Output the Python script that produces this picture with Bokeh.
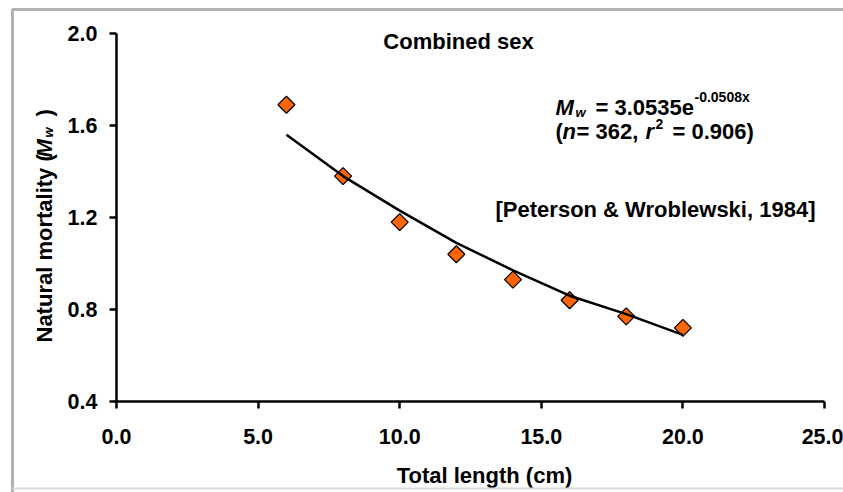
import math
from bokeh.plotting import figure
from bokeh.models import (Range1d, FixedTicker, NumeralTickFormatter, Label,
                          BoxAnnotation, LinearAxis)
from bokeh.embed import file_html
from bokeh.resources import INLINE

# ---- data ----
length_cm = [6, 8, 10, 12, 14, 16, 18, 20]
mortality = [1.69, 1.38, 1.18, 1.04, 0.93, 0.84, 0.77, 0.72]
fit_length = [6, 8, 10, 12, 14, 16, 18, 20]
fit_mortality = [1.56, 1.38, 1.23, 1.09, 0.97, 0.86, 0.78, 0.69]
x_ticks = [0, 5, 10, 15, 20, 25]
y_ticks = [0.4, 0.8, 1.2, 1.6, 2.0]

W, H = 843, 492
L, R, T, B = 116, 824, 33, 401          # pixel box of the axes
X0, X1, Y0, Y1 = 0, 25, 0.4, 2.0        # axis limits

FONT = "Liberation Sans"


def dx(px):
    return X0 + (px - L) / (R - L) * (X1 - X0)


def dy(py):
    return Y1 - (py - T) / (B - T) * (Y1 - Y0)


p = figure(width=W, height=H, output_backend="svg", toolbar_location=None,
           x_range=Range1d(dx(0), dx(W)), y_range=Range1d(dy(H), dy(0)),
           x_axis_location=None, y_axis_location=None,
           min_border_left=0, min_border_right=0,
           min_border_top=0, min_border_bottom=0)
p.outline_line_color = None
p.grid.visible = False
p.background_fill_color = "white"
p.border_fill_color = "white"

xaxis = LinearAxis(fixed_location=Y0, bounds=(X0, X1),
                   ticker=FixedTicker(ticks=x_ticks))
yaxis = LinearAxis(fixed_location=X0, bounds=(Y0, Y1),
                   ticker=FixedTicker(ticks=y_ticks))
for ax in (xaxis, yaxis):
    ax.axis_line_width = 2.5
    ax.axis_line_color = "black"
    ax.major_tick_line_width = 2.5
    ax.major_tick_line_color = "black"
    ax.major_tick_out = 7
    ax.major_tick_in = 0
    ax.minor_tick_line_color = None
    ax.major_label_text_font = FONT
    ax.major_label_text_font_style = "bold"
    ax.major_label_text_font_size = "21.5px"
    ax.major_label_text_color = "black"
    ax.formatter = NumeralTickFormatter(format="0.0")
xaxis.major_label_standoff = 20
yaxis.major_label_standoff = 12
p.add_layout(xaxis, "below")
p.add_layout(yaxis, "left")

p.scatter(length_cm, mortality, marker="square", angle=math.pi / 4, size=12,
          fill_color="#FF6600", line_color="black", line_width=1.3)
p.line(fit_length, fit_mortality, line_color="black", line_width=2.5)


def lab(text, px, py, size="22px", style="bold", align="left", angle=0.0):
    p.add_layout(Label(x=dx(px), y=dy(py), text=text, text_font=FONT,
                       text_font_style=style, text_font_size=size,
                       text_color="black", text_align=align,
                       text_baseline="alphabetic", angle=angle))


# title
lab("Combined sex", 458, 41, align="center")
# equation line 1
lab("M", 555, 107, style="bold italic")
lab("w", 575, 112, size="13px", style="bold italic")
lab("= 3.0535e", 595, 107)
lab("-0.0508x", 694, 96, size="14px")
# equation line 2
lab("(", 555, 131)
lab("n", 562, 131, style="bold italic")
lab("= 362,", 576, 131)
lab("r", 645, 131, style="bold italic")
lab("2", 655, 123, size="14px")
lab("= 0.906)", 672, 131)
# reference
lab("[Peterson & Wroblewski, 1984]", 655, 209, align="center")
# x axis title
lab("Total length (cm)", 484, 475, align="center")
# y axis title (rotated)
a = math.pi / 2
lab("Natural mortality (", 44, 342, angle=a)
lab("M", 44, 157, style="bold italic", angle=a)
lab("w", 48, 137, size="13px", style="bold italic", angle=a)
lab(")", 44, 116, angle=a)

# outer frame of the picture
p.add_layout(BoxAnnotation(left=dx(12), right=dx(W + 20), top=dy(9),
                           bottom=dy(H + 20), fill_color=None,
                           line_color="black", line_width=3))
p.add_layout(BoxAnnotation(left=dx(12), right=dx(W + 20), top=dy(487),
                           bottom=dy(489), fill_color="#d8d8d8",
                           fill_alpha=1.0, line_color=None))

open("out.html", "w").write(file_html(p, INLINE))
